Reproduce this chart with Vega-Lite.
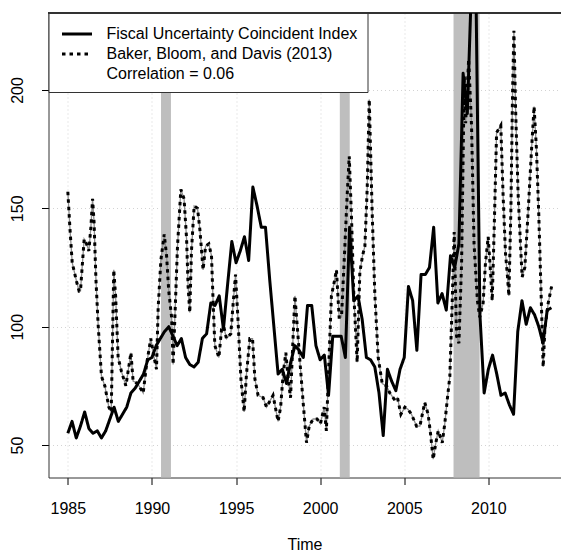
{
  "$schema": "https://vega.github.io/schema/vega-lite/v6.json",
  "width": 512,
  "height": 464.5,
  "autosize": {"type": "none"},
  "padding": {"left": 48.5, "top": 13, "right": 0, "bottom": 76.5},
  "background": "white",
  "config": {
    "view": {"stroke": null},
    "font": "Liberation Sans",
    "axis": {
      "labelFont": "Liberation Sans",
      "labelFontSize": 16,
      "labelColor": "black",
      "titleFont": "Liberation Sans",
      "titleFontSize": 16,
      "titleFontWeight": "normal",
      "titleColor": "black",
      "tickColor": "black",
      "tickSize": 7,
      "domainColor": "#333",
      "gridColor": "#d3d3d3",
      "gridDash": [1, 3],
      "gridWidth": 1
    },
    "legend": {
      "orient": "top-left",
      "offset": 0,
      "padding": 9.5,
      "strokeColor": "#333",
      "fillColor": "white",
      "cornerRadius": 0,
      "labelFont": "Liberation Sans",
      "labelFontSize": 16,
      "labelColor": "black",
      "labelLimit": 500,
      "labelOffset": 18,
      "rowPadding": 0,
      "symbolOffset": 7.5,
      "symbolType": "M-1.5,0H1.5",
      "symbolSize": 400,
      "symbolStrokeWidth": 3,
      "symbolStrokeColor": "black",
      "symbolFillColor": "transparent"
    }
  },
  "datasets": {
    "recessions": [
      {"start": 1990.54, "end": 1991.13},
      {"start": 2001.17, "end": 2001.76},
      {"start": 2007.93, "end": 2009.48}
    ],
    "fuci": [
      {"year": 1985.00, "value": 55}, {"year": 1985.25, "value": 60}, {"year": 1985.50, "value": 53}, {"year": 1985.75, "value": 58},
      {"year": 1986.00, "value": 64}, {"year": 1986.25, "value": 57}, {"year": 1986.50, "value": 55}, {"year": 1986.75, "value": 56},
      {"year": 1987.00, "value": 53}, {"year": 1987.25, "value": 56}, {"year": 1987.50, "value": 61}, {"year": 1987.75, "value": 66},
      {"year": 1988.00, "value": 60}, {"year": 1988.25, "value": 63}, {"year": 1988.50, "value": 66}, {"year": 1988.75, "value": 72},
      {"year": 1989.00, "value": 74}, {"year": 1989.25, "value": 77}, {"year": 1989.50, "value": 80}, {"year": 1989.75, "value": 86},
      {"year": 1990.00, "value": 87}, {"year": 1990.25, "value": 92}, {"year": 1990.50, "value": 95}, {"year": 1990.75, "value": 98},
      {"year": 1991.00, "value": 100}, {"year": 1991.25, "value": 96}, {"year": 1991.50, "value": 92}, {"year": 1991.75, "value": 95},
      {"year": 1992.00, "value": 87}, {"year": 1992.25, "value": 84}, {"year": 1992.50, "value": 83}, {"year": 1992.75, "value": 85},
      {"year": 1993.00, "value": 95}, {"year": 1993.25, "value": 97}, {"year": 1993.50, "value": 110}, {"year": 1993.75, "value": 109},
      {"year": 1994.00, "value": 113}, {"year": 1994.25, "value": 99}, {"year": 1994.50, "value": 118}, {"year": 1994.75, "value": 136},
      {"year": 1995.00, "value": 127}, {"year": 1995.25, "value": 132}, {"year": 1995.50, "value": 138}, {"year": 1995.75, "value": 128},
      {"year": 1996.00, "value": 159}, {"year": 1996.25, "value": 151}, {"year": 1996.50, "value": 142}, {"year": 1996.75, "value": 142},
      {"year": 1997.00, "value": 120}, {"year": 1997.25, "value": 100}, {"year": 1997.50, "value": 80}, {"year": 1997.75, "value": 82},
      {"year": 1998.00, "value": 76}, {"year": 1998.25, "value": 85}, {"year": 1998.50, "value": 92}, {"year": 1998.75, "value": 90},
      {"year": 1999.00, "value": 87}, {"year": 1999.25, "value": 109}, {"year": 1999.50, "value": 109}, {"year": 1999.75, "value": 92},
      {"year": 2000.00, "value": 86}, {"year": 2000.25, "value": 88}, {"year": 2000.50, "value": 71}, {"year": 2000.75, "value": 96},
      {"year": 2001.00, "value": 96}, {"year": 2001.25, "value": 96}, {"year": 2001.50, "value": 87}, {"year": 2001.75, "value": 142},
      {"year": 2002.00, "value": 111}, {"year": 2002.25, "value": 113}, {"year": 2002.50, "value": 103}, {"year": 2002.75, "value": 87},
      {"year": 2003.00, "value": 86}, {"year": 2003.25, "value": 83}, {"year": 2003.50, "value": 72}, {"year": 2003.75, "value": 54},
      {"year": 2004.00, "value": 82}, {"year": 2004.25, "value": 77}, {"year": 2004.50, "value": 73}, {"year": 2004.75, "value": 82},
      {"year": 2005.00, "value": 87}, {"year": 2005.25, "value": 117}, {"year": 2005.50, "value": 111}, {"year": 2005.75, "value": 90},
      {"year": 2006.00, "value": 122}, {"year": 2006.25, "value": 122}, {"year": 2006.50, "value": 125}, {"year": 2006.75, "value": 142},
      {"year": 2007.00, "value": 110}, {"year": 2007.25, "value": 114}, {"year": 2007.50, "value": 107}, {"year": 2007.75, "value": 130},
      {"year": 2008.00, "value": 125}, {"year": 2008.25, "value": 135}, {"year": 2008.50, "value": 207}, {"year": 2008.75, "value": 190},
      {"year": 2009.00, "value": 245}, {"year": 2009.25, "value": 250}, {"year": 2009.50, "value": 105}, {"year": 2009.75, "value": 72},
      {"year": 2010.00, "value": 82}, {"year": 2010.25, "value": 88}, {"year": 2010.50, "value": 80}, {"year": 2010.75, "value": 71},
      {"year": 2011.00, "value": 72}, {"year": 2011.25, "value": 67}, {"year": 2011.50, "value": 63}, {"year": 2011.75, "value": 98},
      {"year": 2012.00, "value": 111}, {"year": 2012.25, "value": 101}, {"year": 2012.50, "value": 108}, {"year": 2012.75, "value": 105},
      {"year": 2013.00, "value": 100}, {"year": 2013.25, "value": 93}, {"year": 2013.50, "value": 107}, {"year": 2013.75, "value": 108}
    ],
    "bbd": [
      {"year": 1985.00, "value": 157}, {"year": 1985.12, "value": 142}, {"year": 1985.26, "value": 127}, {"year": 1985.52, "value": 119},
      {"year": 1985.67, "value": 115}, {"year": 1985.75, "value": 115}, {"year": 1985.97, "value": 137}, {"year": 1986.11, "value": 135},
      {"year": 1986.25, "value": 132}, {"year": 1986.37, "value": 142}, {"year": 1986.47, "value": 154}, {"year": 1986.56, "value": 144},
      {"year": 1986.67, "value": 120}, {"year": 1986.80, "value": 101}, {"year": 1987.00, "value": 79}, {"year": 1987.20, "value": 75},
      {"year": 1987.44, "value": 66}, {"year": 1987.58, "value": 64}, {"year": 1987.73, "value": 124}, {"year": 1987.84, "value": 113},
      {"year": 1987.99, "value": 87}, {"year": 1988.19, "value": 81}, {"year": 1988.45, "value": 75}, {"year": 1988.75, "value": 89},
      {"year": 1988.88, "value": 77}, {"year": 1989.14, "value": 76}, {"year": 1989.48, "value": 72}, {"year": 1989.68, "value": 84},
      {"year": 1989.93, "value": 95}, {"year": 1990.13, "value": 87}, {"year": 1990.27, "value": 82}, {"year": 1990.37, "value": 108},
      {"year": 1990.53, "value": 128}, {"year": 1990.73, "value": 139}, {"year": 1990.87, "value": 130}, {"year": 1991.00, "value": 115},
      {"year": 1991.17, "value": 104}, {"year": 1991.26, "value": 84}, {"year": 1991.52, "value": 134}, {"year": 1991.72, "value": 158},
      {"year": 1991.91, "value": 154}, {"year": 1992.06, "value": 137}, {"year": 1992.15, "value": 117}, {"year": 1992.25, "value": 106},
      {"year": 1992.35, "value": 132}, {"year": 1992.51, "value": 151}, {"year": 1992.71, "value": 150}, {"year": 1992.85, "value": 141},
      {"year": 1993.04, "value": 124}, {"year": 1993.19, "value": 134}, {"year": 1993.38, "value": 135}, {"year": 1993.54, "value": 130},
      {"year": 1993.64, "value": 110}, {"year": 1993.74, "value": 92}, {"year": 1993.98, "value": 87}, {"year": 1994.14, "value": 99},
      {"year": 1994.27, "value": 100}, {"year": 1994.43, "value": 95}, {"year": 1994.69, "value": 97}, {"year": 1994.83, "value": 110},
      {"year": 1994.97, "value": 122}, {"year": 1995.13, "value": 101}, {"year": 1995.29, "value": 78}, {"year": 1995.48, "value": 64},
      {"year": 1995.62, "value": 80}, {"year": 1995.82, "value": 95}, {"year": 1995.98, "value": 95}, {"year": 1996.12, "value": 78},
      {"year": 1996.31, "value": 71}, {"year": 1996.61, "value": 70}, {"year": 1996.81, "value": 66}, {"year": 1997.20, "value": 71},
      {"year": 1997.50, "value": 60}, {"year": 1997.65, "value": 66}, {"year": 1997.80, "value": 80}, {"year": 1997.96, "value": 89},
      {"year": 1998.10, "value": 78}, {"year": 1998.24, "value": 70}, {"year": 1998.37, "value": 92}, {"year": 1998.50, "value": 113},
      {"year": 1998.63, "value": 101}, {"year": 1998.79, "value": 86}, {"year": 1998.99, "value": 68}, {"year": 1999.19, "value": 51},
      {"year": 1999.35, "value": 58}, {"year": 1999.58, "value": 61}, {"year": 1999.82, "value": 61}, {"year": 2000.02, "value": 59},
      {"year": 2000.24, "value": 66}, {"year": 2000.37, "value": 56}, {"year": 2000.52, "value": 85}, {"year": 2000.67, "value": 113},
      {"year": 2000.87, "value": 120}, {"year": 2000.97, "value": 124}, {"year": 2001.13, "value": 104}, {"year": 2001.27, "value": 104},
      {"year": 2001.47, "value": 134}, {"year": 2001.61, "value": 156}, {"year": 2001.73, "value": 172}, {"year": 2001.87, "value": 145},
      {"year": 2002.00, "value": 114}, {"year": 2002.20, "value": 85}, {"year": 2002.36, "value": 123}, {"year": 2002.52, "value": 130},
      {"year": 2002.66, "value": 134}, {"year": 2002.80, "value": 159}, {"year": 2002.92, "value": 196}, {"year": 2003.09, "value": 149},
      {"year": 2003.25, "value": 114}, {"year": 2003.45, "value": 87}, {"year": 2003.69, "value": 76}, {"year": 2003.95, "value": 75},
      {"year": 2004.14, "value": 72}, {"year": 2004.44, "value": 69}, {"year": 2004.60, "value": 70}, {"year": 2004.80, "value": 63},
      {"year": 2005.04, "value": 66}, {"year": 2005.23, "value": 65}, {"year": 2005.43, "value": 63}, {"year": 2005.73, "value": 58},
      {"year": 2005.93, "value": 58}, {"year": 2006.22, "value": 68}, {"year": 2006.42, "value": 63}, {"year": 2006.56, "value": 55},
      {"year": 2006.72, "value": 44}, {"year": 2006.88, "value": 51}, {"year": 2007.02, "value": 56}, {"year": 2007.26, "value": 51},
      {"year": 2007.41, "value": 59}, {"year": 2007.57, "value": 70}, {"year": 2007.71, "value": 79}, {"year": 2007.85, "value": 110},
      {"year": 2007.97, "value": 140}, {"year": 2008.11, "value": 96}, {"year": 2008.25, "value": 93}, {"year": 2008.41, "value": 127},
      {"year": 2008.57, "value": 206}, {"year": 2008.65, "value": 186}, {"year": 2008.83, "value": 213}, {"year": 2009.00, "value": 185},
      {"year": 2009.15, "value": 135}, {"year": 2009.35, "value": 111}, {"year": 2009.49, "value": 104}, {"year": 2009.69, "value": 110},
      {"year": 2009.83, "value": 127}, {"year": 2009.99, "value": 138}, {"year": 2010.13, "value": 123}, {"year": 2010.23, "value": 111},
      {"year": 2010.35, "value": 142}, {"year": 2010.49, "value": 182}, {"year": 2010.74, "value": 185}, {"year": 2010.88, "value": 155},
      {"year": 2011.02, "value": 131}, {"year": 2011.14, "value": 121}, {"year": 2011.22, "value": 113}, {"year": 2011.34, "value": 149},
      {"year": 2011.44, "value": 199}, {"year": 2011.52, "value": 225}, {"year": 2011.62, "value": 192}, {"year": 2011.77, "value": 156},
      {"year": 2011.93, "value": 132}, {"year": 2012.01, "value": 121}, {"year": 2012.17, "value": 125}, {"year": 2012.37, "value": 149},
      {"year": 2012.57, "value": 175}, {"year": 2012.72, "value": 193}, {"year": 2012.86, "value": 175}, {"year": 2013.00, "value": 147},
      {"year": 2013.12, "value": 118}, {"year": 2013.26, "value": 83}, {"year": 2013.36, "value": 99}, {"year": 2013.56, "value": 110},
      {"year": 2013.76, "value": 117}
    ]
  },
  "layer": [
    {
      "data": {"name": "recessions"},
      "mark": {"type": "rect", "color": "#bebebe"},
      "encoding": {
        "x": {"field": "start", "type": "quantitative", "title": "Time",
              "scale": {"domain": [1983.85, 2014.29], "nice": false, "zero": false},
              "axis": {"values": [1985, 1990, 1995, 2000, 2005, 2010], "format": "d", "grid": true,
                       "labelPadding": 16, "titlePadding": 20, "labelFlush": false}},
        "x2": {"field": "end"}
      }
    },
    {
      "data": {"name": "fuci"},
      "mark": {"type": "rule", "color": "#333", "strokeWidth": 1},
      "encoding": {
        "y": {"datum": 232.5, "type": "quantitative", "title": null,
              "scale": {"domain": [36.3, 232.5], "nice": false, "zero": false},
              "axis": {"values": [50, 100, 150, 200], "grid": true, "labelAngle": -90,
                       "labelAlign": "center", "labelBaseline": "bottom", "labelPadding": 16}}
      }
    },
    {
      "data": {"name": "bbd"},
      "mark": {"type": "line", "clip": true, "color": "#8c8c8c", "strokeWidth": 1.3},
      "encoding": {
        "x": {"field": "year", "type": "quantitative", "title": "Time",
              "scale": {"domain": [1983.85, 2014.29], "nice": false, "zero": false}},
        "y": {"field": "value", "type": "quantitative", "title": null,
              "scale": {"domain": [36.3, 232.5], "nice": false, "zero": false}}
      }
    },
    {
      "data": {"name": "bbd"},
      "mark": {"type": "line", "clip": true, "color": "black", "strokeWidth": 3},
      "encoding": {
        "x": {"field": "year", "type": "quantitative", "title": "Time",
              "scale": {"domain": [1983.85, 2014.29], "nice": false, "zero": false}},
        "y": {"field": "value", "type": "quantitative", "title": null,
              "scale": {"domain": [36.3, 232.5], "nice": false, "zero": false}},
        "strokeDash": {"datum": "Baker, Bloom, and Davis (2013)", "type": "nominal", "title": null,
          "scale": {"domain": ["Fiscal Uncertainty Coincident Index", "Baker, Bloom, and Davis (2013)", "Correlation = 0.06"],
                    "range": [[1, 0], [3.5, 4], [0, 100]]}}
      }
    },
    {
      "data": {"name": "fuci"},
      "mark": {"type": "line", "clip": true, "color": "black", "strokeWidth": 3, "strokeJoin": "round"},
      "encoding": {
        "x": {"field": "year", "type": "quantitative", "title": "Time",
              "scale": {"domain": [1983.85, 2014.29], "nice": false, "zero": false}},
        "y": {"field": "value", "type": "quantitative", "title": null,
              "scale": {"domain": [36.3, 232.5], "nice": false, "zero": false}},
        "strokeDash": {"datum": "Fiscal Uncertainty Coincident Index", "type": "nominal", "title": null,
          "scale": {"domain": ["Fiscal Uncertainty Coincident Index", "Baker, Bloom, and Davis (2013)", "Correlation = 0.06"],
                    "range": [[1, 0], [3.5, 4], [0, 100]]}}
      }
    }
  ]
}
